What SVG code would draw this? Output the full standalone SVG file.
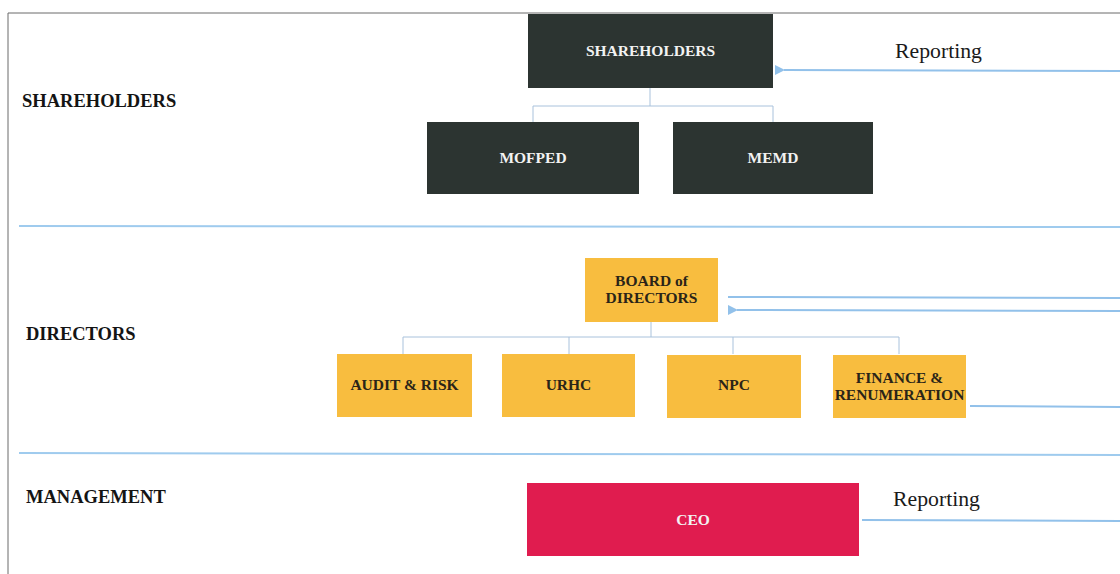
<svg xmlns="http://www.w3.org/2000/svg" width="1120" height="574" viewBox="0 0 1120 574">
<defs>
<style>
.dark{fill:#2c3431}
.yel{fill:#f8bd3f}
.red{fill:#e01c4f}
.lbl{font-family:"Liberation Serif",serif;font-weight:bold;font-size:18.5px;fill:#141414}
.wt{font-family:"Liberation Serif",serif;font-weight:bold;font-size:15.5px;fill:#f2f2f2;text-anchor:middle}
.bt{font-family:"Liberation Serif",serif;font-weight:bold;font-size:15.5px;fill:#2a2418;text-anchor:middle}
.rep{font-family:"Liberation Serif",serif;font-size:20.5px;fill:#1a1a1a}
.sep{stroke:#9fcbee;stroke-width:2;fill:none}
.flow{stroke:#92c1ea;stroke-width:2;fill:none}
.tree{stroke:#a9c2dc;stroke-width:1;fill:none}
</style>
<marker id="ah" viewBox="0 0 10 10" refX="1" refY="5" markerWidth="5" markerHeight="5" orient="auto">
<path d="M10,0 L0,5 L10,10 z" fill="#92c1ea"/>
</marker>
</defs>
<rect width="1120" height="574" fill="#ffffff"/>
<g id="frame">
<line x1="8" y1="13" x2="1120" y2="13" stroke="#6b6b6b" stroke-width="1"/>
<line x1="8" y1="13" x2="8" y2="574" stroke="#6b6b6b" stroke-width="1"/>
<line class="sep" x1="19" y1="226" x2="1120" y2="227"/>
<line class="sep" x1="19" y1="453" x2="1120" y2="455"/>
</g>
<g id="labels">
<text class="lbl" x="22" y="107">SHAREHOLDERS</text>
<text class="lbl" x="26" y="340">DIRECTORS</text>
<text class="lbl" x="26" y="503">MANAGEMENT</text>
<text class="rep" x="895" y="58" textLength="87" lengthAdjust="spacingAndGlyphs">Reporting</text>
<text class="rep" x="893" y="506" textLength="87" lengthAdjust="spacingAndGlyphs">Reporting</text>
</g>
<g id="connectors">
<path class="tree" d="M650,88 V106 M533,122 V106 H773 V122"/>
<path class="tree" d="M651,322 V337 M403,354 V337 H899 V354 M569,337 V354 M733,337 V354"/>
<line class="flow" x1="1120" y1="71" x2="784" y2="70" marker-end="url(#ah)"/>
<line class="flow" x1="728" y1="297" x2="1120" y2="298"/>
<line class="flow" x1="1120" y1="311" x2="737" y2="310" marker-end="url(#ah)"/>
<line class="flow" x1="970" y1="406" x2="1120" y2="407"/>
<line class="flow" x1="862" y1="520" x2="1120" y2="521"/>
</g>
<g id="node-shareholders">
<rect class="dark" x="528" y="14" width="245" height="74"/>
<text class="wt" x="650.5" y="56">SHAREHOLDERS</text>
</g>
<g id="node-mofped">
<rect class="dark" x="427" y="122" width="212" height="72"/>
<text class="wt" x="533" y="163">MOFPED</text>
</g>
<g id="node-memd">
<rect class="dark" x="673" y="122" width="200" height="72"/>
<text class="wt" x="773" y="163">MEMD</text>
</g>
<g id="node-board">
<rect class="yel" x="585" y="258" width="133" height="64"/>
<text class="bt" x="651.5" y="286">BOARD of</text>
<text class="bt" x="651.5" y="303">DIRECTORS</text>
</g>
<g id="node-audit">
<rect class="yel" x="337" y="354" width="135" height="63"/>
<text class="bt" x="404.5" y="390">AUDIT &amp; RISK</text>
</g>
<g id="node-urhc">
<rect class="yel" x="502" y="354" width="133" height="63"/>
<text class="bt" x="568.5" y="390">URHC</text>
</g>
<g id="node-npc">
<rect class="yel" x="667" y="355" width="134" height="63"/>
<text class="bt" x="734" y="390">NPC</text>
</g>
<g id="node-finance">
<rect class="yel" x="833" y="355" width="133" height="63"/>
<text class="bt" x="899.5" y="383">FINANCE &amp;</text>
<text class="bt" x="899.5" y="400">RENUMERATION</text>
</g>
<g id="node-ceo">
<rect class="red" x="527" y="483" width="332" height="73"/>
<text class="wt" x="693" y="525">CEO</text>
</g>
</svg>
